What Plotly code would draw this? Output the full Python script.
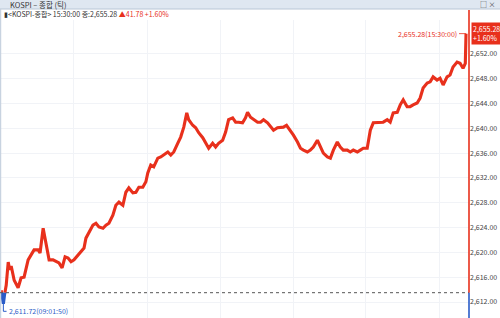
import plotly.graph_objects as go

# ---------------- data ----------------
prev_close = 2613.50
close_price = 2655.28
change_pts = 41.78
change_pct = 1.60
low_price = 2611.72
low_minute = 1.83
low_time = "09:01:50"
close_time = "15:30:00"

# minutes after 09:00
minutes = [0, 1.3, 1.83, 2.9, 4.2, 5.9, 7.1, 8.4, 10.9, 14.2, 16.7, 19.2, 22.6, 25.1, 27.6, 31.0,
           32.6, 35.2, 37.7, 40.2, 43.5, 46.0, 48.5, 51.1, 53.6, 56.1, 58.6, 61.1, 64.4, 67.0,
           69.5, 71.1, 73.6, 77.0, 79.5, 82.0, 85.4, 87.9, 90.4, 93.7, 96.2, 98.8, 102.1, 104.6,
           107.1, 110.5, 113.0, 115.5, 118.8, 121.4, 123.0, 125.5, 128.0, 131.4, 133.9, 136.4,
           139.8, 142.3, 144.8, 148.1, 150.6, 153.2, 155.7, 157.3, 160.7, 163.2, 165.7, 169.1,
           171.6, 174.1, 177.4, 179.9, 182.4, 185.8, 188.3, 190.8, 194.2, 196.7, 199.2, 202.5,
           205.0, 206.7, 209.2, 211.7, 215.1, 217.6, 220.1, 223.5, 226.0, 228.5, 231.8, 234.3,
           236.8, 239.4, 242.7, 245.2, 248.6, 251.1, 253.6, 256.9, 259.4, 261.9, 265.3, 267.8,
           270.3, 273.7, 276.2, 278.7, 282.0, 284.5, 287.0, 290.4, 292.9, 295.4, 298.8, 301.3,
           303.8, 307.1, 309.7, 312.2, 315.5, 318.0, 320.5, 323.9, 326.4, 328.9, 332.3, 334.8,
           337.3, 340.6, 343.1, 345.6, 349.0, 351.5, 354.0, 357.4, 359.9, 362.4, 365.7, 368.2,
           370.8, 374.1, 376.6, 379.1, 382.5, 385.0, 387.5, 389.4, 390.0]

prices = [2613.9, 2612.6, 2611.72, 2613.3, 2614.7, 2618.45, 2617.2, 2617.8, 2615.5, 2614.3,
          2615.9, 2616.0, 2618.8, 2619.6, 2620.4, 2620.4, 2619.9, 2623.9, 2621.5, 2618.8,
          2618.8, 2618.5, 2618.3, 2617.5, 2619.3, 2619.1, 2618.5, 2618.8, 2619.6, 2620.1,
          2620.7, 2622.3, 2623.1, 2624.4, 2624.7, 2624.1, 2623.9, 2624.4, 2624.7, 2626.0,
          2627.6, 2628.1, 2627.6, 2629.7, 2630.4, 2629.6, 2629.7, 2630.5, 2630.5, 2631.4,
          2632.8, 2634.1, 2633.8, 2635.2, 2635.4, 2635.7, 2636.2, 2635.7, 2636.2, 2637.6,
          2638.6, 2640.2, 2642.5, 2641.4, 2640.5, 2640.1, 2639.3, 2638.5, 2637.6, 2636.8,
          2637.6, 2637.0, 2637.6, 2638.1, 2639.4, 2641.4, 2641.7, 2641.0, 2641.0, 2640.9,
          2641.7, 2642.6, 2641.8, 2641.4, 2641.0, 2641.0, 2641.4, 2640.9, 2640.2, 2639.7,
          2640.1, 2640.1, 2640.2, 2640.5, 2639.7, 2638.9, 2637.8, 2636.8, 2636.5, 2636.2,
          2636.5, 2637.0, 2638.1, 2637.0, 2636.0, 2635.4, 2635.2, 2636.5, 2637.8, 2637.0,
          2636.5, 2636.5, 2636.2, 2636.5, 2636.2, 2636.5, 2636.8, 2636.8, 2639.7, 2640.9,
          2640.9, 2641.0, 2641.0, 2641.4, 2641.0, 2642.5, 2642.6, 2643.8, 2644.6, 2643.5,
          2643.5, 2643.8, 2644.1, 2644.9, 2646.5, 2647.3, 2647.5, 2648.3, 2647.8, 2648.1,
          2647.0, 2648.3, 2648.6, 2649.9, 2650.7, 2650.5, 2649.7, 2650.5, 2655.28]

y_ticks = [2612, 2616, 2620, 2624, 2628, 2632, 2636, 2640, 2644, 2648, 2652]
grid_minutes = [61, 123, 184, 245, 306, 368]

# ---------------- style ----------------
RED = "#e8301c"
BLUE = "#2a5cc8"
Y0, Y1 = 2609.42, 2657.48
X0, X1 = -1.0, 392.5
FONT = "Noto Sans CJK KR"


def split_at(xs, ys, level):
    rx, ry, bx, by = [], [], [], []
    for i, (x, y) in enumerate(zip(xs, ys)):
        if i > 0:
            xa, ya = xs[i - 1], ys[i - 1]
            if (ya - level) * (y - level) < 0:
                xc = xa + (level - ya) * (x - xa) / (y - ya)
                if ya >= level:
                    rx += [xc, None]; ry += [level, None]
                    bx += [xc]; by += [level]
                else:
                    bx += [xc, None]; by += [level, None]
                    rx += [xc]; ry += [level]
        if y >= level:
            rx.append(x); ry.append(y)
        else:
            bx.append(x); by.append(y)
    return rx, ry, bx, by


rx, ry, bx, by = split_at(minutes, prices, prev_close)

fig = go.Figure()
fig.add_trace(go.Scatter(x=rx, y=ry, mode="lines", line=dict(color=RED, width=3.1),
                         connectgaps=False, hoverinfo="skip"))
fig.add_trace(go.Scatter(x=bx, y=by, mode="lines", line=dict(color=BLUE, width=3.1),
                         connectgaps=False, hoverinfo="skip"))

pc_paper = (prev_close - Y0) / (Y1 - Y0)
plot_h = 298
top_line = 1 + 10 / plot_h

shapes = [
    # header bar
    dict(type="rect", xref="paper", yref="paper", x0=-0.01, x1=1.08,
         y0=1 + 11 / plot_h, y1=1 + 21 / plot_h, fillcolor="#dfe7f1",
         line=dict(color="#b9c6d6", width=1), layer="above"),
    # left border
    dict(type="line", xref="paper", yref="paper", x0=0.001, x1=0.001, y0=0, y1=1 + 11 / plot_h,
         line=dict(color="#c8d3e0", width=1.5)),
    # prev close dotted line
    dict(type="line", xref="paper", yref="y", x0=0, x1=1, y0=prev_close, y1=prev_close,
         line=dict(color="#555555", width=1, dash="dot")),
    # right axis line: red above prev close, blue below
    dict(type="line", xref="paper", yref="paper", x0=1, x1=1, y0=pc_paper, y1=top_line,
         line=dict(color=RED, width=1.6)),
    dict(type="line", xref="paper", yref="paper", x0=1, x1=1, y0=0, y1=pc_paper,
         line=dict(color=BLUE, width=1.6)),
    # low marker bracket
    dict(type="path", xref="x", yref="y",
         path=f"M {low_minute},{low_price} L {low_minute},2610.5 L 4.5,2610.5",
         line=dict(color=BLUE, width=1)),
]

annotations = [
    dict(xref="paper", yref="paper", x=0.018, y=1 + 16 / plot_h, xanchor="left", yanchor="middle",
         text="KOSPI – 종합 (틱)", showarrow=False, font=dict(family=FONT, size=7.5, color="#333333")),
    dict(xref="paper", yref="paper", x=1.0405, y=1 + 16 / plot_h, xanchor="center", yanchor="middle",
         text="□ ×", showarrow=False, font=dict(family=FONT, size=7, color="#444444")),
    dict(xref="paper", yref="paper", x=0.004, y=1 + 6 / plot_h, xanchor="left", yanchor="middle",
         text=(f"▮&lt;KOSPI-종합&gt; {close_time} 종:{close_price:,.2f} "
               f"<span style='color:{RED}'>▲{change_pts:.2f} +{change_pct:.2f}%</span>"),
         showarrow=False, font=dict(family=FONT, size=7, color="#333333")),
    # last price tag
    dict(xref="paper", yref="y", x=1.005, y=close_price, xanchor="left", yanchor="middle",
         text=f"{close_price:,.2f}<br>+{change_pct:.2f}%", showarrow=False, align="left",
         bgcolor=RED, borderpad=1, font=dict(family=FONT, size=7, color="white")),
    # close label
    dict(x=minutes[-1], y=close_price, xref="x", yref="y", text=f"{close_price:,.2f}({close_time})",
         showarrow=True, arrowhead=0, arrowwidth=0.8, arrowcolor=RED, ax=-7, ay=0,
         xanchor="right", yanchor="middle", standoff=0,
         font=dict(family=FONT, size=7, color=RED)),
    # low label
    dict(x=4.6, y=2610.5, xref="x", yref="y", text=f"{low_price:,.2f}({low_time})",
         showarrow=False, xanchor="left", yanchor="middle",
         font=dict(family=FONT, size=7, color=BLUE)),
]

fig.update_layout(
    width=500, height=318,
    margin=dict(l=0, r=31, t=20, b=0),
    paper_bgcolor="white", plot_bgcolor="white",
    showlegend=False,
    shapes=shapes, annotations=annotations,
    xaxis=dict(range=[X0, X1], tickvals=grid_minutes, showticklabels=False, ticks="",
               showgrid=True, gridcolor="#f1f3f7", gridwidth=1, zeroline=False, showline=False),
    yaxis=dict(range=[Y0, Y1], side="right", tickvals=y_ticks, tickformat=",.2f",
               ticks="", showgrid=True, gridcolor="#f1f3f7", zeroline=False, showline=False,
               tickfont=dict(family=FONT, size=7, color="#444444")),
)

fig.write_html("out.html")
